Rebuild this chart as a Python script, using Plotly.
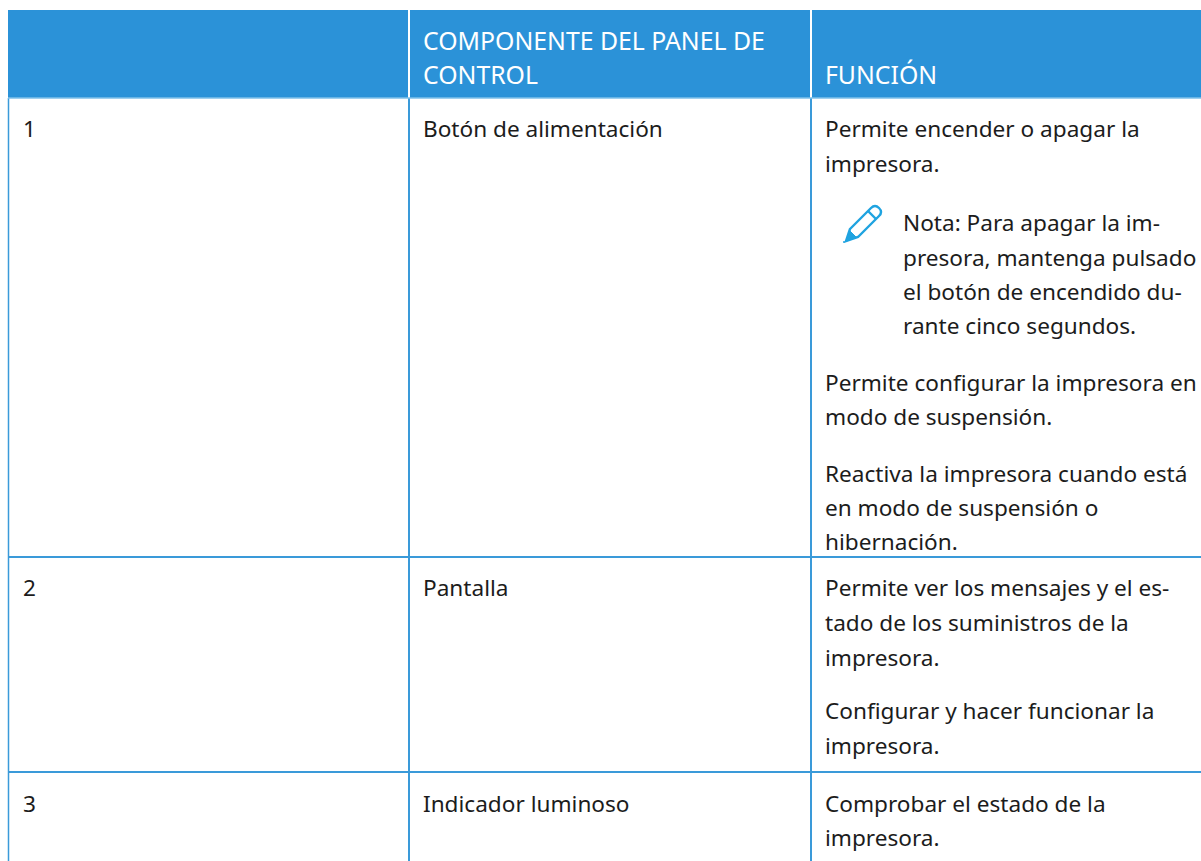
import plotly.graph_objects as go

# ---- table content ----
header_component = ["COMPONENTE DEL PANEL DE", "CONTROL"]
header_function = ["FUNCIÓN"]
row_numbers = ["1", "2", "3"]
components = ["Botón de alimentación", "Pantalla", "Indicador luminoso"]
functions_1a = ["Permite encender o apagar la", "impresora."]
note_lines = ["Nota: Para apagar la im-", "presora, mantenga pulsado", "el botón de encendido du-", "rante cinco segundos."]
functions_1b = ["Permite configurar la impresora en", "modo de suspensión."]
functions_1c = ["Reactiva la impresora cuando está", "en modo de suspensión o", "hibernación."]
functions_2a = ["Permite ver los mensajes y el es-", "tado de los suministros de la", "impresora."]
functions_2b = ["Configurar y hacer funcionar la", "impresora."]
functions_3 = ["Comprobar el estado de la", "impresora."]

# ---- layout constants ----
W, H = 1201, 861
LEFT, COL2, COL3 = 8, 409, 811
HEAD_TOP, HEAD_BOT = 10, 98
ROW_LINES = [557, 772]
BLUE = "#2b92d8"
LINE = "#3a9ad9"
TEXT = "#1c1c1c"
FONT = "Noto Sans"
SIZE = 22.6

ann = []
def put(x, y, s, color=TEXT, size=SIZE, family=FONT):
    ann.append(dict(x=x, y=y, text=s, xref="x", yref="y", showarrow=False,
                    xanchor="left", yanchor="middle", align="left", xshift=-2,
                    font=dict(family=family, size=size, color=color)))

def block(x, ys, lines):
    for y, s in zip(ys, lines):
        put(x, y, s)

for y, s in zip([40, 74], header_component):
    put(423, y, s, color="#ffffff", size=24.8)
put(825, 74, header_function[0], color="#ffffff", size=24.8)

for y, n, c in zip([128, 587, 803], row_numbers, components):
    put(23, y, n)
    put(423, y, c)

block(825, [128, 163], functions_1a)
block(903, [222, 257, 291, 325], note_lines)
block(825, [382, 416], functions_1b)
block(825, [473, 507, 541], functions_1c)
block(825, [587, 622, 657], functions_2a)
block(825, [710, 745], functions_2b)
block(825, [803, 837], functions_3)

shapes = [dict(type="rect", x0=LEFT, x1=W, y0=HEAD_TOP, y1=HEAD_BOT, fillcolor=BLUE, line_width=0)]
for x in (COL2, COL3):
    shapes.append(dict(type="line", x0=x, x1=x, y0=HEAD_TOP, y1=HEAD_BOT, line=dict(color="#ffffff", width=2)))
    shapes.append(dict(type="line", x0=x, x1=x, y0=HEAD_BOT, y1=H, line=dict(color=LINE, width=2)))
shapes.append(dict(type="line", x0=LEFT + .5, x1=LEFT + .5, y0=HEAD_BOT, y1=H, line=dict(color=LINE, width=1.5)))
shapes.append(dict(type="line", x0=LEFT, x1=W, y0=HEAD_BOT, y1=HEAD_BOT, line=dict(color="#7fc0ea", width=1.5)))
for y in ROW_LINES:
    shapes.append(dict(type="line", x0=LEFT, x1=W, y0=y, y1=y, line=dict(color=LINE, width=2)))

# pencil note icon
ICON = "#1fa3e0"
shapes.append(dict(type="path", path="M 850,229 L 871,208 Q 875,204 879,208 Q 883,212 879,216 L 858,237 L 846,241 Z",
                   line=dict(color=ICON, width=2.4), fillcolor="#ffffff"))
shapes.append(dict(type="line", x0=868, y0=211, x1=876, y1=219, line=dict(color=ICON, width=2.4)))
shapes.append(dict(type="path", path="M 846,241 L 850,231 L 856,237 Z", line=dict(color=ICON, width=1), fillcolor=ICON))
shapes.append(dict(type="circle", x0=843, x1=845, y0=241, y1=243, line_width=0, fillcolor=ICON))

fig = go.Figure()
fig.update_layout(width=W, height=H, margin=dict(l=0, r=0, t=0, b=0),
                  paper_bgcolor="#ffffff", plot_bgcolor="#ffffff",
                  xaxis=dict(range=[0, W], visible=False, fixedrange=True),
                  yaxis=dict(range=[H, 0], visible=False, fixedrange=True),
                  shapes=shapes, annotations=ann, showlegend=False)
fig.write_html("out.html", config=dict(displayModeBar=False),
               post_script="document.body.style.margin='0';document.body.style.overflow='hidden';")
